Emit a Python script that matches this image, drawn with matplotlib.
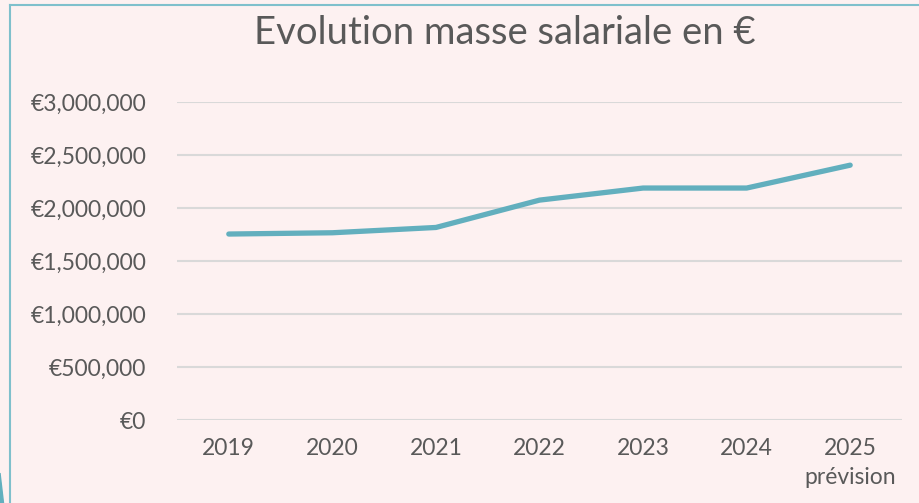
import matplotlib.pyplot as plt
from matplotlib.patches import Polygon
from matplotlib.lines import Line2D
from matplotlib.ticker import FuncFormatter

annees = ["2019", "2020", "2021", "2022", "2023", "2024", "2025\nprévision"]
masse = [1755000, 1767000, 1817000, 2075000, 2189000, 2189000, 2405000]
yticks = [0, 500000, 1000000, 1500000, 2000000, 2500000, 3000000]

fond = "#fdf1f1"
texte = "#595959"
plt.rcParams['font.family'] = ['Lato', 'DejaVu Sans']

fig = plt.figure(figsize=(9.2, 5.03), dpi=100, facecolor=fond)
ax = fig.add_axes([0.1924, 0.165, 0.788, 0.632])
ax.set_facecolor(fond)

x = list(range(len(annees)))
ax.plot(x, masse, color="#62afbe", linewidth=3.8, solid_capstyle="round", solid_joinstyle="round")

ax.set_xlim(-0.5, len(annees) - 0.5)
ax.set_ylim(0, 3000000)
ax.set_yticks(yticks)
ax.yaxis.set_major_formatter(FuncFormatter(lambda v, p: "€{:,.0f}".format(v)))
ax.set_xticks(x)
ax.set_xticklabels(annees, linespacing=1.45)
ax.grid(axis="y", color="#d9d9d9", linewidth=1.5)
ax.set_axisbelow(True)
for s in ax.spines.values():
    s.set_visible(False)
ax.tick_params(axis="y", length=0, pad=22, labelsize=16.5, labelcolor=texte)
ax.tick_params(axis="x", length=0, pad=13, labelsize=16.5, labelcolor=texte)

fig.text(505 / 920, 1 - 33 / 503, "Evolution masse salariale en €", ha="center", va="center",
         fontsize=27.5, color=texte)

# cadre
bord = "#7fc0cc"
fig.add_artist(Line2D([10 / 920, 10 / 920], [0, 1 - 5 / 503], color=bord, linewidth=1.5))
fig.add_artist(Line2D([10 / 920, 1], [1 - 5 / 503, 1 - 5 / 503], color=bord, linewidth=1.5))
fig.add_artist(Polygon([[0, 0], [3.5 / 920, 0], [0, 30 / 503]], closed=True, color="#62afbe"))

fig.savefig("out.png", dpi=100, facecolor=fond)
